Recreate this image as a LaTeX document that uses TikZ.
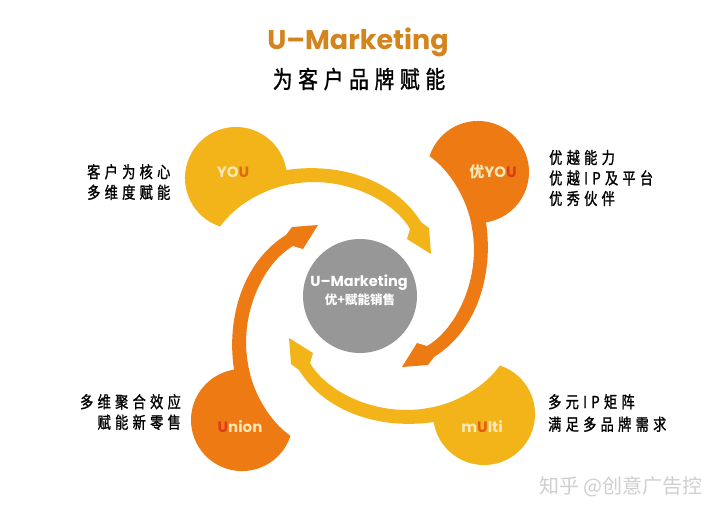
\documentclass[tikz,border=0pt]{standalone}
\usepackage{fontspec}
\newfontfamily\cjk{Noto Sans CJK SC}
\newfontfamily\cjkside[LetterSpace=26,FakeStretch=0.8,FakeBold=1.2]{Noto Sans CJK SC}
\newfontfamily\cjktitle[LetterSpace=24,FakeStretch=0.82,FakeBold=1.2]{Noto Sans CJK SC}
\newfontfamily\logofont{Poppins}
\definecolor{uyellow}{HTML}{F2B418}
\definecolor{uorange}{HTML}{EE7A14}
\definecolor{ugray}{HTML}{979797}
\definecolor{ubrown}{HTML}{D4841C}
\definecolor{upale}{HTML}{F8E8B8}
\definecolor{ured}{HTML}{DC3C1C}
\definecolor{uwater}{HTML}{CFCFCF}
\tikzset{
  sidetext/.style={font=\cjkside\fontsize{16.5}{20.5}\selectfont, inner sep=0pt},
  blobtext/.style={font=\logofont\bfseries\fontsize{15}{15}\selectfont, text=upale, inner sep=0pt},
}

\begin{document}
\begin{tikzpicture}[x=1pt,y=-1pt]
\useasboundingbox (0,0) rectangle (728,515);
\fill[white] (0,0) rectangle (728,515);

%\draw[step=20,gray,very thin] (0,0) grid (728,515); %background grid

% YOU blob with its arrow
\fill[uyellow] (220.2,226.5) arc[start angle=108, end angle=351, radius=51]
  .. controls (340,162) and (395,180) .. (421,222) -- (429,228) -- (431,254)
  -- (407,239) -- (410,229) .. controls (392,198) and (340,175) .. (292,184)
  .. controls (265,188) and (235,205) .. cycle;

% 优YOU blob
\begin{scope}[rotate around={-90:(360,296)}]
\fill[uorange] (220.2,226.5) arc[start angle=108, end angle=351, radius=51]
  .. controls (340,162) and (395,180) .. (421,222) -- (429,228) -- (431,254)
  -- (407,239) -- (410,229) .. controls (392,198) and (340,175) .. (292,184)
  .. controls (265,188) and (235,205) .. cycle;
\end{scope}

% mUlti blob
\begin{scope}[rotate around={-180:(360,296)}]
\fill[uyellow] (220.2,226.5) arc[start angle=108, end angle=351, radius=51]
  .. controls (340,162) and (395,180) .. (421,222) -- (429,228) -- (431,254)
  -- (407,239) -- (410,229) .. controls (392,198) and (340,175) .. (292,184)
  .. controls (265,188) and (235,205) .. cycle;
\end{scope}

% Union blob
\begin{scope}[rotate around={-270:(360,296)}]
\fill[uorange] (220.2,226.5) arc[start angle=108, end angle=351, radius=51]
  .. controls (340,162) and (395,180) .. (421,222) -- (429,228) -- (431,254)
  -- (407,239) -- (410,229) .. controls (392,198) and (340,175) .. (292,184)
  .. controls (265,188) and (235,205) .. cycle;
\end{scope}

% hub
\node[circle, fill=ugray, minimum size=114pt, inner sep=0pt] (hub) at (360,296) {};
\node[font=\logofont\bfseries\fontsize{14.5}{14.5}\selectfont, text=white, inner sep=0pt] (hubtitle) at (359,283) {U–Marketing};
\node[font=\cjk\bfseries\fontsize{12.5}{12.5}\selectfont, text=white, inner sep=0pt] (hubsub) at (360,300) {优+赋能销售};

% labels in the blobs
\node[blobtext] (you) at (233,172) {YO\textcolor{ubrown!80!red}{U}};
\node[blobtext] (youplus) at (493,172) {{\cjk\bfseries 优}YO\textcolor{ured}{U}};
\node[blobtext] (multi) at (482,427) {m\textcolor{ubrown!70!red}{U}lti};
\node[blobtext] (union) at (240,427) {\textcolor{ured}{U}nion};

% side texts
\node[sidetext, align=left, anchor=west] (youtext) at (87,182) {客户为核心\\多维度赋能};
\node[sidetext, align=left, anchor=west] (youplustext) at (549,178) {优越能力\\优越IP及平台\\优秀伙伴};
\node[sidetext, align=left, anchor=west, font=\cjkside\fontsize{16.5}{22.5}\selectfont] (multitext) at (548,413) {多元IP矩阵\\满足多品牌需求};
\node[sidetext, align=right, anchor=east] (uniontext) at (181,412) {多维聚合效应\\赋能新零售};

% title
\node[font=\logofont\bfseries\fontsize{27}{27}\selectfont, text=ubrown, inner sep=0pt] (title) at (358,42) {U–Marketing};
\node[font=\cjktitle\fontsize{24}{24}\selectfont, inner sep=0pt] (subtitle) at (359,79) {为客户品牌赋能};

% watermark
\node[font=\cjk\fontsize{20}{20}\selectfont, text=uwater, inner sep=0pt] (mark) at (621,487) {知乎 @创意广告控};

\end{tikzpicture}
\end{document}
